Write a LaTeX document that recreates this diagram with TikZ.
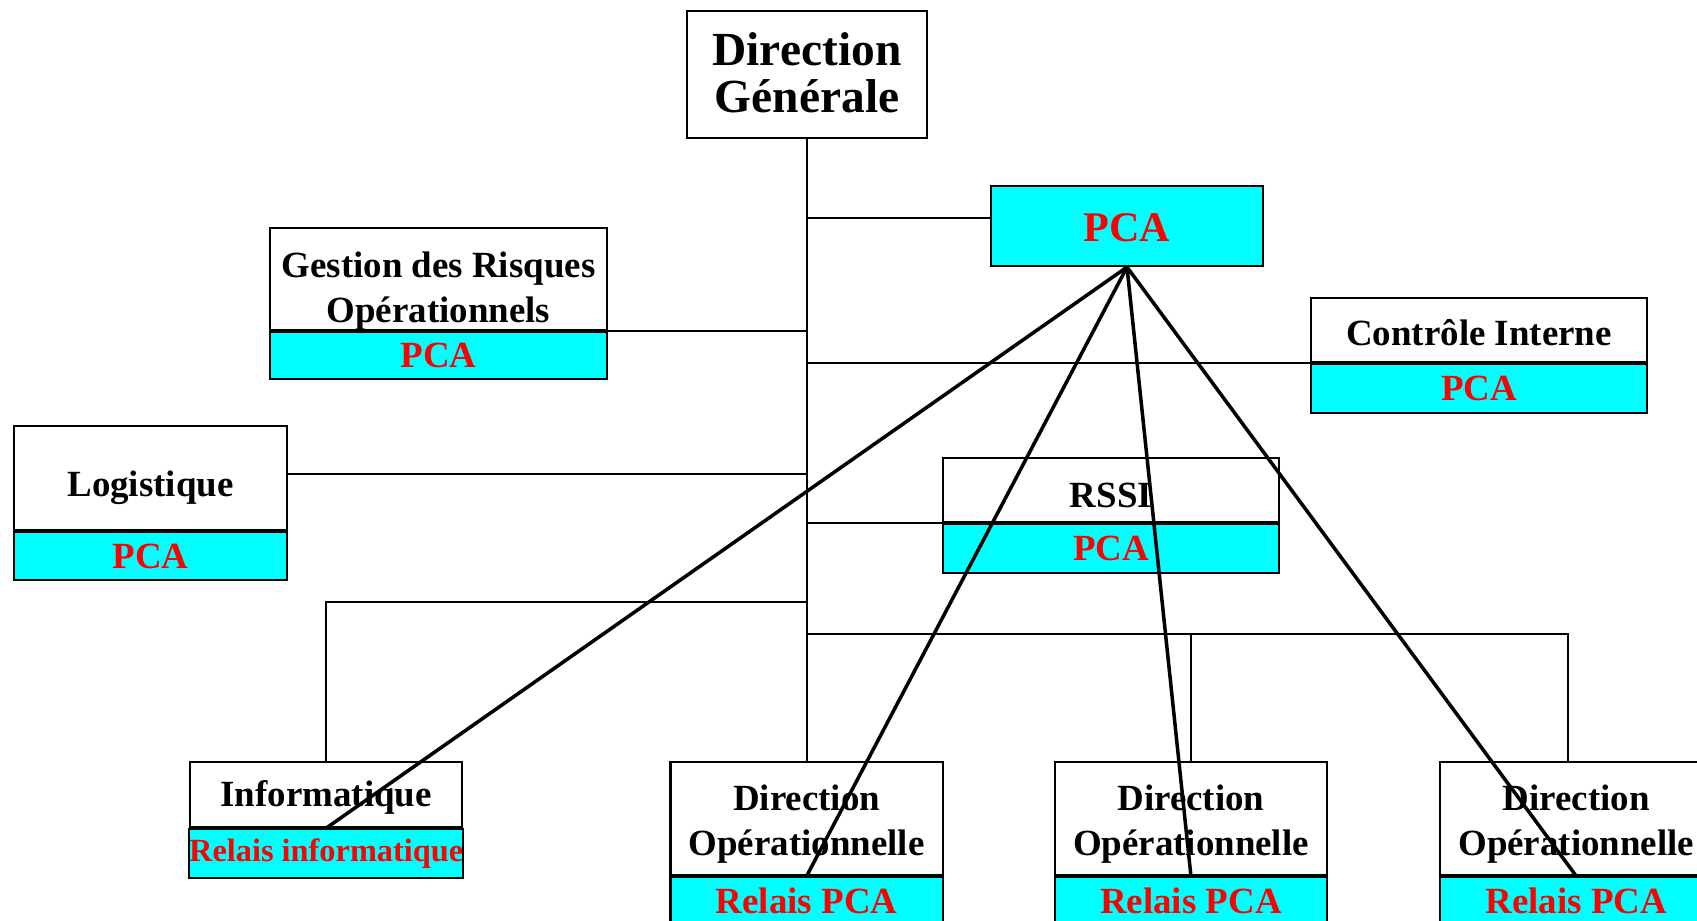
\documentclass[tikz,border=0pt]{standalone}
\usepackage{fontspec}
\setmainfont{Liberation Serif}
\usetikzlibrary{positioning,calc}
\definecolor{pcacyan}{RGB}{0,255,255}
\definecolor{pcared}{RGB}{255,0,0}

\tikzset{
	unit/.style={draw, line width=0.6pt, fill=white, align=center, inner sep=0pt, font=\bfseries\fontsize{10.5}{12.8}\selectfont},
	relais/.style={unit, fill=pcacyan, text=pcared},
	textlow/.style={execute at begin node={\rule{0pt}{#1}}},
	textup/.style={execute at end node={\rule[-#1]{0pt}{0pt}}},
	link/.style={line width=0.45pt},
	pcaline/.style={line width=1pt},
}

\begin{document}
\begin{tikzpicture}[x=0.01cm,y=-0.01cm]
	\path [use as bounding box, clip] (0,0) rectangle (1697,920);

	% direction et PCA central
	\node	[unit, minimum width=2.40cm, minimum height=1.27cm, font=\bfseries\fontsize{13.5}{13.4}\selectfont, textup=1.25pt]	(dg)	at (807,74.5)	{Direction\\Générale};
	\node	[relais, minimum width=2.72cm, minimum height=0.80cm, font=\bfseries\fontsize{12}{14}\selectfont, textlow=9.2pt]	(pca)	at (1127,226)	{PCA};

	% services
	\node	[unit, minimum width=3.37cm, minimum height=1.02cm]	(gri)		at (438.5,279)		{\rule{0pt}{14pt}Gestion des Risques\\Opérationnels};
	\node	[relais, minimum width=3.37cm, minimum height=0.47cm]	(gri-pca)	[below=0pt of gri]	{PCA};
	\node	[unit, minimum width=3.36cm, minimum height=0.64cm, textlow=8.9pt]	(ci)		at (1479,330)		{Contrôle Interne};
	\node	[relais, minimum width=3.36cm, minimum height=0.49cm]	(ci-pca)	[below=0pt of ci]	{PCA};
	\node	[unit, minimum width=2.73cm, minimum height=1.04cm, textlow=12.7pt]	(lg)		at (150.5,478)		{Logistique};
	\node	[relais, minimum width=2.73cm, minimum height=0.48cm]	(lg-pca)	[below=0pt of lg]	{PCA};
	\node	[unit, minimum width=3.36cm, minimum height=0.64cm, textlow=10.2pt]	(rssi)		at (1111,490)		{RSSI};
	\node	[relais, minimum width=3.36cm, minimum height=0.49cm]	(rssi-pca)	[below=0pt of rssi]	{PCA};

	% directions operationnelles
	\node	[unit, minimum width=2.72cm, minimum height=1.13cm]	(do1)		at (806.6,818.5)		{\rule{0pt}{10.6pt}Direction\\Opérationnelle};
	\node	[relais, minimum width=2.72cm, minimum height=0.48cm]	(do1-pca)	[below=0pt of do1]		{Relais PCA};
	\node	[unit, minimum width=2.72cm, minimum height=1.13cm]	(do2)		[right=1.10cm of do1]	{\rule{0pt}{10.6pt}Direction\\Opérationnelle};
	\node	[relais, minimum width=2.72cm, minimum height=0.48cm]	(do2-pca)	[below=0pt of do2]		{Relais PCA};
	\node	[unit, minimum width=2.72cm, minimum height=1.13cm]	(do3)		[right=1.11cm of do2]	{\rule{0pt}{10.6pt}Direction\\Opérationnelle};
	\node	[relais, minimum width=2.72cm, minimum height=0.48cm]	(do3-pca)	[below=0pt of do3]		{Relais PCA};
	\node	[unit, minimum width=2.72cm, minimum height=0.65cm, textlow=9pt]	(info)		[below left=0pt and 2.06cm of do1.north west]	{Informatique};
	\node	[relais, minimum width=2.72cm, minimum height=0.49cm, font=\bfseries\fontsize{9.2}{11}\selectfont]	(info-pca)	[below=0pt of info]	{Relais informatique};

	\coordinate	(j-pca)		at (807,218);
	\coordinate	(j-info)	at (807,602);
	\coordinate	(j-do)		at (807,634);
	\coordinate	(j-lg)		at ($(lg.east)+(0,-4)$);

	% organigramme
	\draw	[link]	(dg.south) -- (dg.south |- do1.north);
	\draw	[link]	(j-pca) -- (pca.west |- j-pca);
	\draw	[link]	(gri.south east) -- (dg.south |- gri.south east);
	\draw	[link]	(ci.south west) -- (dg.south |- ci.south west);
	\draw	[link]	(j-lg) -- (dg.south |- j-lg);
	\draw	[link]	(rssi.south west) -- (dg.south |- rssi.south west);
	\draw	[link]	(j-info) -| (info.north);
	\draw	[link]	(j-do) -| (do2.north);
	\draw	[link]	(j-do) -| ([xshift=-0.08cm]do3.north);

	% relais du PCA
	\draw	[pcaline]	(pca.south) -- (info.south);
	\draw	[pcaline]	(pca.south) -- (do1.south);
	\draw	[pcaline]	(pca.south) -- (do2.south);
	\draw	[pcaline]	(pca.south) -- (do3.south);
\end{tikzpicture}
\end{document}
